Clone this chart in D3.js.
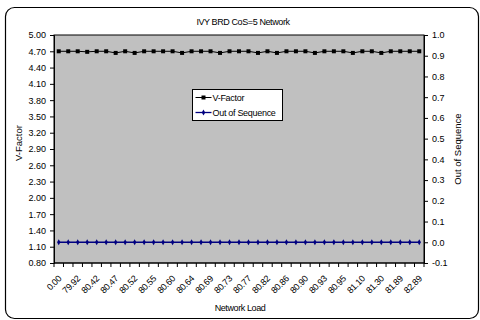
<!DOCTYPE html>
<html>
<head>
<meta charset="utf-8">
<script src="https://cdn.jsdelivr.net/npm/d3@7"></script>
<style>
  html, body { margin: 0; padding: 0; background: #fff; }
  svg { display: block; font-family: Arial, "Liberation Sans", sans-serif; }
</style>
</head>
<body>
<svg id="chart" width="480" height="320"></svg>
<script>
// Network load for each measurement (every other one is labelled on the axis)
const networkLoad = [
  "0.00", "79.64", "79.92", "80.31", "80.42", "80.45", "80.47", "80.50",
  "80.52", "80.54", "80.55", "80.58", "80.60", "80.62", "80.64", "80.66",
  "80.69", "80.71", "80.73", "80.75", "80.77", "80.80", "80.82", "80.84",
  "80.86", "80.88", "80.90", "80.91", "80.93", "80.94", "80.95", "81.02",
  "81.10", "81.20", "81.30", "81.55", "81.89", "82.31", "82.89"
];
const vFactor = [
  4.70, 4.70, 4.70, 4.69, 4.70, 4.70, 4.67, 4.70,
  4.67, 4.70, 4.70, 4.70, 4.70, 4.67, 4.70, 4.70,
  4.70, 4.67, 4.70, 4.70, 4.70, 4.67, 4.70, 4.67,
  4.70, 4.70, 4.70, 4.67, 4.70, 4.70, 4.70, 4.67,
  4.70, 4.70, 4.67, 4.70, 4.70, 4.70, 4.70
];
const outOfSequence = networkLoad.map(() => 0.0);
const leftTicks = [0.80, 1.10, 1.40, 1.70, 2.00, 2.30, 2.60, 2.90, 3.20, 3.50, 3.80, 4.10, 4.40, 4.70, 5.00];
const rightTicks = [-0.1, 0.0, 0.1, 0.2, 0.3, 0.4, 0.5, 0.6, 0.7, 0.8, 0.9, 1.0];

const svg = d3.select("#chart");
const plot = { left: 54, right: 424, top: 35, bottom: 263 };

// Outer chart frame
svg.append("rect")
  .attr("x", 5.5).attr("y", 7.5)
  .attr("width", 473).attr("height", 311)
  .attr("rx", 9).attr("ry", 9)
  .attr("fill", "#fff").attr("stroke", "#000").attr("stroke-width", 1.2);

const x = d3.scaleBand().domain(networkLoad).range([plot.left, plot.right]);
const yL = d3.scaleLinear().domain([0.8, 5.0]).range([plot.bottom, plot.top]);
const yR = d3.scaleLinear().domain([-0.1, 1.0]).range([plot.bottom, plot.top]);

// Plot area
svg.append("rect")
  .attr("x", plot.left).attr("y", plot.top)
  .attr("width", plot.right - plot.left).attr("height", plot.bottom - plot.top)
  .attr("fill", "#c0c0c0").attr("stroke", "#000").attr("stroke-width", 1);

// Title
svg.append("text")
  .attr("x", 243).attr("y", 25)
  .attr("text-anchor", "middle").attr("font-size", 9).attr("letter-spacing", -0.4)
  .text("IVY BRD CoS=5 Network");

// Left axis
const gL = svg.append("g").attr("transform", `translate(${plot.left},0)`)
  .call(d3.axisLeft(yL).tickValues(leftTicks).tickFormat(d3.format(".2f")).tickSize(4).tickPadding(4));
gL.select(".domain").attr("stroke", "#000");
gL.selectAll("text").attr("font-size", 9).attr("font-family", "Arial, 'Liberation Sans', sans-serif").attr("fill", "#000");

// Right axis
const gR = svg.append("g").attr("transform", `translate(${plot.right},0)`)
  .call(d3.axisRight(yR).tickValues(rightTicks).tickFormat(d3.format(".1f")).tickSize(4).tickPadding(4));
gR.select(".domain").attr("stroke", "#000");
gR.selectAll("text").attr("font-size", 9).attr("font-family", "Arial, 'Liberation Sans', sans-serif").attr("fill", "#000")
  .text(d => d3.format(".1f")(d).replace("\u2212", "-"));

// Bottom axis: ticks at band boundaries, labels on every other category
const gB = svg.append("g").attr("transform", `translate(0,${plot.bottom})`);
gB.append("line").attr("x1", plot.left).attr("x2", plot.right).attr("stroke", "#000");
const boundaries = networkLoad.map(d => x(d)).concat([plot.right]);
gB.selectAll("line.tick").data(boundaries).join("line")
  .attr("class", "tick")
  .attr("x1", d => d).attr("x2", d => d).attr("y1", 0).attr("y2", 4)
  .attr("stroke", "#000");
gB.selectAll("text").data(networkLoad.filter((d, i) => i % 2 === 0)).join("text")
  .attr("transform", d => `translate(${x(d) + x.bandwidth() / 2 + 1},${14}) rotate(-45)`)
  .attr("text-anchor", "end").attr("dy", "0.35em")
  .attr("font-size", 9).attr("letter-spacing", -0.3)
  .text(d => d);

// Axis titles
svg.append("text")
  .attr("transform", "translate(22,143) rotate(-90)")
  .attr("text-anchor", "middle").attr("font-size", 9.5)
  .text("V-Factor");
svg.append("text")
  .attr("transform", "translate(461,149) rotate(-90)")
  .attr("text-anchor", "middle").attr("font-size", 9.5)
  .text("Out of Sequence");
svg.append("text")
  .attr("x", 240).attr("y", 311)
  .attr("text-anchor", "middle").attr("font-size", 9).attr("letter-spacing", -0.4)
  .text("Network Load");

const cx = d => x(d) + x.bandwidth() / 2;

// V-Factor series
svg.append("path")
  .datum(vFactor)
  .attr("fill", "none").attr("stroke", "#000").attr("stroke-width", 1)
  .attr("d", d3.line().x((d, i) => cx(networkLoad[i])).y(d => yL(d)));
svg.selectAll("rect.vf").data(vFactor).join("rect")
  .attr("class", "vf")
  .attr("x", (d, i) => cx(networkLoad[i]) - 2).attr("y", d => yL(d) - 2)
  .attr("width", 4).attr("height", 4).attr("fill", "#000");

// Out of Sequence series
svg.append("path")
  .datum(outOfSequence)
  .attr("fill", "none").attr("stroke", "#000080").attr("stroke-width", 1.3)
  .attr("d", d3.line().x((d, i) => cx(networkLoad[i])).y(d => yR(d)));
const diamond = d3.symbol().type(d3.symbolDiamond).size(10);
svg.selectAll("path.oos").data(outOfSequence).join("path")
  .attr("class", "oos")
  .attr("transform", (d, i) => `translate(${cx(networkLoad[i])},${yR(d)})`)
  .attr("d", diamond).attr("fill", "#000080");

// Legend
const lg = svg.append("g").attr("transform", "translate(192.5,89.5)");
lg.append("rect").attr("width", 90).attr("height", 31)
  .attr("fill", "#fff").attr("stroke", "#000").attr("stroke-width", 1);
const legendItems = [
  { name: "V-Factor", color: "#000", marker: "square" },
  { name: "Out of Sequence", color: "#000080", marker: "diamond" }
];
legendItems.forEach((it, i) => {
  const ry = 8 + i * 15;
  lg.append("line").attr("x1", 3).attr("x2", 19).attr("y1", ry).attr("y2", ry)
    .attr("stroke", it.color).attr("stroke-width", it.marker === "square" ? 1 : 1.3);
  if (it.marker === "square") {
    lg.append("rect").attr("x", 9).attr("y", ry - 2).attr("width", 4).attr("height", 4).attr("fill", it.color);
  } else {
    lg.append("path").attr("transform", `translate(11,${ry})`).attr("d", diamond).attr("fill", it.color);
  }
  lg.append("text").attr("x", 20).attr("y", ry).attr("dy", "0.35em")
    .attr("font-size", 9).attr("letter-spacing", -0.3).text(it.name);
});
</script>
</body>
</html>
